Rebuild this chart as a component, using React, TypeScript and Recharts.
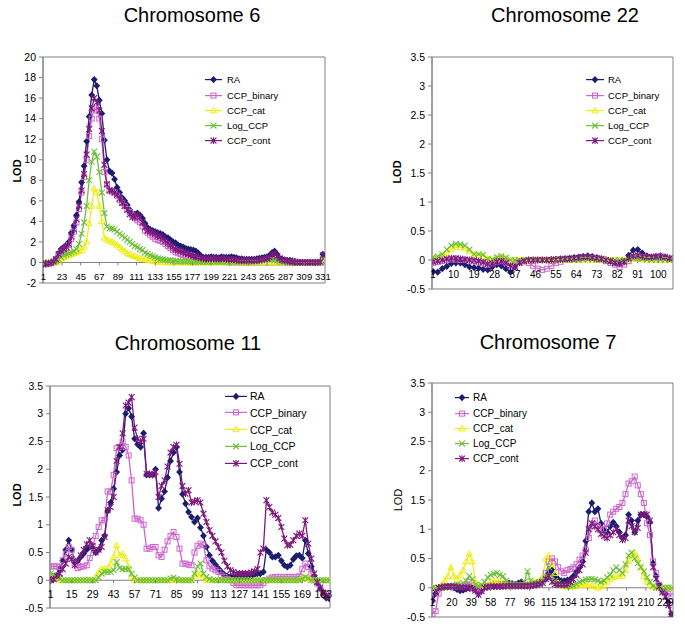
import React from 'react';
import { LineChart, Line, XAxis, YAxis, ReferenceLine, ReferenceArea } from 'recharts';

const FONT = '"Liberation Sans", Arial, sans-serif';

// ---- Chromosome 6 (every 3rd marker, k = 1, 4, 7 ... 331) ----
const chr6Ticks = [1, 23, 45, 67, 89, 111, 133, 155, 177, 199, 221, 243, 265, 287, 309, 331];
const chr6RA = [
  -0.15, -0.15, -0.1, -0.05, 0.1, 0.4, 0.9, 1.3, 1.5, 1.7,
  2.0, 2.9, 3.6, 4.6, 5.9, 7.8, 9.4, 11.8, 14.2, 16.3,
  17.8, 17.2, 15.8, 14.5, 11.9, 10.0, 8.9, 8.7, 8.1, 7.3,
  6.8, 6.3, 6.0, 5.6, 5.1, 4.7, 4.7, 4.8, 4.6, 4.3,
  3.8, 3.4, 3.2, 3.1, 3.0, 2.9, 2.8, 2.7, 2.5, 2.4,
  2.2, 2.0, 1.9, 1.7, 1.6, 1.5, 1.35, 1.3, 1.25, 1.2,
  1.1, 0.9, 0.65, 0.5, 0.5, 0.5, 0.55, 0.5, 0.5, 0.45,
  0.55, 0.5, 0.5, 0.5, 0.55, 0.5, 0.45, 0.35, 0.35, 0.3,
  0.3, 0.3, 0.3, 0.3, 0.35, 0.4, 0.45, 0.5, 0.55, 0.7,
  0.95, 1.1, 0.8, 0.4, 0.3, 0.25, 0.2, 0.2, 0.15, 0.1,
  0.05, 0, 0, 0, 0, 0, 0, 0, 0, 0.1,
  0.8,
];
const chr6Binary = [
  -0.15, -0.15, -0.1, -0.05, 0.05, 0.3, 0.7, 1.0, 1.2, 1.4,
  1.7, 2.3, 3.0, 3.9, 5.2, 6.8, 8.3, 10.0, 12.3, 14.0,
  15.0, 14.8, 14.0, 12.0, 8.8, 7.6, 7.0, 6.9, 6.8, 6.5,
  6.1, 5.8, 5.5, 5.2, 4.9, 4.6, 4.3, 4.1, 3.9, 3.5,
  3.1, 2.9, 2.7, 2.5, 2.3, 2.2, 2.1, 2.0, 1.8, 1.6,
  1.4, 1.2, 1.0, 0.9, 0.8, 0.7, 0.6, 0.5, 0.4, 0.3,
  0.25, 0.2, 0.15, 0.1, 0.1, 0.1, 0.1, 0.05, 0.05, 0.05,
  0.05, 0.05, 0.05, 0, 0, 0, 0, 0, 0, 0,
  0, 0, 0, 0, 0, 0, 0, 0, 0, 0,
  0, 0, 0, 0, 0, 0, 0, 0, 0, 0,
  0, 0, 0, 0, 0, 0, 0, 0, 0, 0,
  0.1,
];
const chr6Cat = [
  0, 0, 0, 0, 0, 0, 0.1, 0.3, 0.5, 0.6,
  0.7, 0.8, 0.9, 1.0, 1.1, 1.2, 1.5, 2.0, 3.8, 5.5,
  7.2, 6.8, 5.5, 4.0, 2.4, 2.2, 2.1, 2.0, 1.9, 1.7,
  1.5, 1.3, 1.1, 0.9, 0.8, 0.7, 0.6, 0.5, 0.4, 0.35,
  0.3, 0.25, 0.2, 0.15, 0.1, 0.1, 0.05, 0.05, 0, 0,
  0, 0, 0, 0, 0, 0, 0, 0, 0, 0,
  0, 0, 0, 0, 0, 0, 0, 0, 0, 0,
  0, 0, 0, 0, 0, 0, 0, 0, 0, 0,
  0, 0, 0, 0, 0, 0, 0, 0, 0, 0,
  0, 0, 0, 0, 0, 0, 0, 0, 0, 0,
  0, 0, 0, 0, 0, 0, 0, 0, 0, 0,
  0.3,
];
const chr6Log = [
  0, 0, 0, 0, 0, 0.1, 0.3, 0.5, 0.7, 0.8,
  0.9, 1.0, 1.1, 1.3, 1.8, 2.8, 3.9, 5.5, 8.0, 9.8,
  10.8, 10.3, 8.8, 6.8, 4.8, 3.5, 3.3, 3.3, 3.2, 3.0,
  2.8, 2.6, 2.4, 2.2, 2.0, 1.8, 1.6, 1.5, 1.3, 1.2,
  0.95, 0.85, 0.7, 0.6, 0.5, 0.4, 0.35, 0.3, 0.25, 0.2,
  0.2, 0.15, 0.15, 0.1, 0.1, 0.1, 0.1, 0.1, 0.05, 0.05,
  0.05, 0.05, 0.05, 0.05, 0.05, 0.05, 0.05, 0.05, 0.05, 0.05,
  0.05, 0.05, 0.05, 0.05, 0.05, 0.05, 0.05, 0.05, 0.05, 0.05,
  0.05, 0.05, 0.05, 0.1, 0.1, 0.15, 0.2, 0.25, 0.3, 0.3,
  0.3, 0.25, 0.2, 0.1, 0.05, 0.05, 0, 0, 0, 0,
  0, 0, 0, 0, 0, 0, 0, 0, 0, 0,
  0.4,
];
const chr6Cont = [
  -0.15, -0.15, -0.1, -0.05, 0.1, 0.3, 0.8, 1.1, 1.3, 1.5,
  1.8, 2.5, 3.2, 4.2, 5.5, 7.0, 8.6, 10.5, 13.0, 15.0,
  16.0, 15.6, 14.8, 12.8, 9.5, 7.6, 7.0, 7.0, 6.8, 6.6,
  6.2, 5.8, 5.5, 5.1, 4.7, 4.4, 4.4, 4.6, 4.4, 3.9,
  3.4, 3.1, 3.0, 2.9, 2.8, 2.6, 2.5, 2.3, 2.1, 1.9,
  1.7, 1.5, 1.3, 1.2, 1.1, 1.0, 0.9, 0.85, 0.75, 0.65,
  0.55, 0.5, 0.45, 0.4, 0.35, 0.35, 0.4, 0.4, 0.35, 0.35,
  0.35, 0.4, 0.35, 0.3, 0.3, 0.3, 0.25, 0.2, 0.2, 0.2,
  0.2, 0.2, 0.2, 0.2, 0.2, 0.25, 0.3, 0.35, 0.4, 0.5,
  0.75, 0.85, 0.6, 0.4, 0.25, 0.2, 0.15, 0.1, 0.05, 0,
  0, 0, 0, 0, 0, 0, 0, 0, 0, 0.05,
  0.7,
];

// ---- Chromosome 22 (every 2nd marker, k = 1, 3 ... 105) ----
const chr22Ticks = [1, 10, 19, 28, 37, 46, 55, 64, 73, 82, 91, 100];
const chr22RA = [
  -0.2, -0.21, -0.15, -0.11, -0.06, -0.05, -0.05, -0.08, -0.12, -0.13,
  -0.14, -0.16, -0.17, -0.12, -0.08, -0.1, -0.15, -0.21, -0.12, -0.03,
  -0.01, 0, 0, 0, 0, 0, 0.01, 0.01, 0.02, 0.02,
  0.03, 0.04, 0.05, 0.06, 0.07, 0.06, 0.04, 0.02, 0, -0.02,
  -0.04, -0.05, -0.02, 0.08, 0.17, 0.18, 0.12, 0.07, 0.05, 0.06,
  0.07, 0.05, 0.03,
];
const chr22Binary = [
  -0.05, -0.03, -0.02, 0, 0.01, 0.01, 0, 0, -0.01, -0.02,
  -0.04, -0.06, -0.08, -0.06, -0.03, -0.02, -0.05, -0.1, -0.1, -0.04,
  -0.02, -0.05, -0.1, -0.15, -0.17, -0.15, -0.1, -0.05, -0.03, 0,
  0, 0.01, 0.02, 0.03, 0.04, 0.03, 0.02, 0.01, -0.02, -0.05,
  -0.08, -0.12, -0.08, -0.02, 0.04, 0.06, 0.05, 0.04, 0.04, 0.05,
  0.05, 0.04, 0.02,
];
const chr22Cat = [
  0.03, 0.04, 0.07, 0.13, 0.19, 0.22, 0.22, 0.2, 0.15, 0.09,
  0.08, 0.07, 0.02, 0, 0.03, 0.05, 0.03, 0, 0, 0,
  0, 0, 0, 0, 0, 0, 0, 0, 0, 0,
  0, 0, 0, 0, 0, 0, 0, 0, 0, 0,
  0, 0, 0, 0, 0.02, 0.02, 0.01, 0, 0, 0,
  0, 0, 0,
];
const chr22Log = [
  0.05, 0.06, 0.1, 0.18, 0.25, 0.28, 0.27, 0.25, 0.18, 0.1,
  0.1, 0.09, 0.02, 0.01, 0.05, 0.07, 0.04, 0, 0, 0,
  0, 0, 0, 0, 0, 0, 0, 0, 0, 0,
  0, 0, 0, 0.01, 0.01, 0.01, 0.01, 0, 0, 0,
  0, 0, 0, 0.01, 0.03, 0.03, 0.02, 0.01, 0, 0,
  0, 0, 0,
];
const chr22Cont = [
  -0.03, -0.02, 0, 0.02, 0.03, 0.03, 0.02, 0.01, 0, -0.01,
  -0.02, -0.04, -0.07, -0.06, -0.03, -0.02, -0.05, -0.1, -0.12, -0.05,
  -0.02, 0, 0, 0, 0, 0, 0, 0.01, 0.01, 0.02,
  0.02, 0.03, 0.04, 0.05, 0.05, 0.04, 0.03, 0.02, 0, -0.02,
  -0.05, -0.06, -0.03, 0.03, 0.07, 0.08, 0.06, 0.05, 0.05, 0.06,
  0.06, 0.05, 0.03,
];

// ---- Chromosome 11 (every 2nd marker, k = 1, 3 ... 187) ----
const chr11Ticks = [1, 15, 29, 43, 57, 71, 85, 99, 113, 127, 141, 155, 169, 183];
const chr11RA = [
  0, 0.02, 0.08, 0.2, 0.35, 0.55, 0.72, 0.55, 0.32, 0.35,
  0.42, 0.48, 0.55, 0.6, 0.58, 0.5, 0.55, 0.72, 0.8, 1.25,
  1.4, 1.65, 1.95, 2.25, 2.35, 3.0, 3.1, 2.95, 2.55, 2.45,
  2.4, 2.65, 1.9, 1.9, 1.9, 2.0, 1.3, 1.47, 1.6, 1.85,
  2.15, 2.3, 2.4, 1.95, 1.55, 1.38, 1.23, 1.14, 1.05, 1.12,
  0.95, 0.8, 0.6, 0.45, 0.35, 0.28, 0.21, 0.15, 0.1, 0.07,
  0.06, 0.06, 0.06, 0.06, 0.06, 0.07, 0.07, 0.08, 0.1, 0.12,
  0.12, 0.15, 0.55, 0.5, 0.42, 0.42, 0.45, 0.35, 0.27, 0.24,
  0.27, 0.38, 0.44, 0.45, 0.4, 0.72, 0.48, 0.25, 0.08, -0.05,
  -0.15, -0.25, -0.32, -0.33,
];
const chr11Binary = [
  0.25, 0.25, 0.25, 0.24, 0.36, 0.48, 0.6, 0.55, 0.3, 0.22,
  0.24, 0.25, 0.27, 0.4, 0.6, 0.8, 0.96, 1.08, 1.08, 1.6,
  1.6, 1.9, 2.38, 2.4, 2.5, 2.4, 2.25, 1.8, 1.11, 1.11,
  1.08, 1.0, 0.57, 0.57, 0.6, 0.6, 0.45, 0.42, 0.55, 0.7,
  0.8, 0.87, 0.78, 0.57, 0.3, 0.3, 0.28, 0.27, 0.5, 0.62,
  0.66, 0.63, 0.36, 0.25, 0.21, 0.18, 0.15, 0.09, 0.06, 0.02,
  0, -0.05, -0.09, -0.09, -0.09, -0.09, -0.09, -0.09, -0.09, -0.09,
  -0.09, -0.05, 0, 0.03, 0.05, 0.06, 0.06, 0.06, 0.06, 0.06,
  0.06, 0.06, 0.06, 0.07, 0.2, 0.3, 0.24, 0.12, 0, -0.06,
  -0.15, -0.24, -0.24, -0.24,
];
const chr11Cat = [
  0.06, 0.05, 0.03, 0.01, 0, 0, 0, 0, 0, 0,
  0, 0, 0, 0, 0, 0.06, 0.15, 0.21, 0.21, 0.21,
  0.3, 0.42, 0.63, 0.45, 0.48, 0.39, 0.24, 0.06, 0, 0,
  0, 0, 0, 0, 0, 0, 0, 0, 0, 0,
  0, 0, 0, 0, 0, 0, 0, 0, 0.08, 0.12,
  0.1, 0.05, 0, 0, 0, 0, 0, 0, 0, 0,
  0, 0, 0, 0, 0, 0, 0, 0, 0, 0,
  0, 0, 0, 0, 0, 0, 0, 0, 0, 0,
  0, 0, 0, 0, 0.03, 0.05, 0.03, 0, 0, 0,
  0, 0, 0, 0,
];
const chr11Log = [
  0.12, 0.1, 0.06, 0.03, 0, 0, 0, 0, 0, 0,
  0, 0, 0, 0, 0, 0, 0.05, 0.12, 0.15, 0.15,
  0.15, 0.18, 0.33, 0.22, 0.2, 0.2, 0.2, 0.12, 0.05, 0,
  0, 0, 0, 0, 0, 0, 0, 0, 0, 0,
  0.03, 0.05, 0.02, 0, 0, 0, 0, 0, 0.12, 0.25,
  0.3, 0.12, 0.06, 0.02, 0, 0, 0, 0, 0, 0,
  0, 0, 0, 0, 0, 0, 0, 0, 0, 0,
  0, 0, 0, 0, 0, 0, 0, 0, 0, 0,
  0, 0, 0, 0, 0.03, 0.06, 0.03, 0, 0, 0,
  0, 0, 0, 0,
];
const chr11Cont = [
  0, 0.02, 0.08, 0.12, 0.2, 0.3, 0.42, 0.38, 0.27, 0.35,
  0.45, 0.55, 0.65, 0.72, 0.62, 0.5, 0.55, 0.6, 0.78, 1.26,
  1.32, 1.5, 2.15, 2.4, 2.65, 3.15, 3.2, 3.3, 2.75, 2.55,
  2.5, 2.55, 1.92, 1.92, 1.9, 1.95, 1.5, 1.7, 1.8, 2.05,
  2.3, 2.4, 2.44, 2.1, 1.7, 1.56, 1.62, 1.4, 1.42, 1.44,
  1.4, 1.2, 1.05, 0.9, 0.8, 0.7, 0.6, 0.5, 0.35, 0.25,
  0.18, 0.15, 0.12, 0.12, 0.12, 0.12, 0.12, 0.14, 0.16, 0.2,
  0.5, 0.57, 1.44, 1.32, 1.22, 1.18, 1.12, 0.96, 0.75, 0.63,
  0.64, 0.72, 0.8, 0.84, 0.8, 1.08, 0.66, 0.39, 0.12, -0.03,
  -0.13, -0.22, -0.28, -0.3,
];

// ---- Chromosome 7 (every 3rd marker, k = 1, 4 ... 235) ----
const chr7Ticks = [1, 20, 39, 58, 77, 96, 115, 134, 153, 172, 191, 210, 229];
const chr7RA = [
  -0.22, -0.1, 0, 0.01, 0.02, 0.02, 0.02, 0, -0.03, -0.05,
  -0.04, -0.02, 0, 0, -0.03, -0.1, -0.05, 0.02, 0.03, 0.04,
  0.05, 0.05, 0.06, 0.07, 0.08, 0.08, 0.07, 0.06, 0.08, 0.1,
  0.06, 0.05, 0.05, 0.06, 0.08, 0.1, 0.12, 0.15, 0.25, 0.3,
  0.2, 0.15, 0.12, 0.12, 0.13, 0.15, 0.2, 0.28, 0.35, 0.45,
  0.8, 1.3, 1.45, 1.3, 1.35, 1.1, 0.98, 0.95, 1.05, 1.12,
  1.05, 0.95, 0.85, 0.9, 1.25, 1.15, 0.95, 1.15, 1.25, 1.25,
  1.22, 1.12, 0.42, 0.2, 0.05, -0.05, -0.1, -0.25, -0.45,
];
const chr7Binary = [
  -0.45, -0.4, -0.1, 0, 0.02, 0.02, 0.02, 0.02, 0.02, 0.02,
  0.03, 0.05, 0.1, 0.02, -0.03, -0.08, -0.03, 0.02, 0.03, 0.03,
  0.03, 0.04, 0.05, 0.05, 0.05, 0.05, 0.05, 0.05, 0.04, 0.04,
  0.04, 0.04, 0.05, 0.05, 0.06, 0.08, 0.12, 0.25, 0.45, 0.5,
  0.45, 0.35, 0.28, 0.25, 0.3, 0.32, 0.35, 0.4, 0.48, 0.55,
  0.65, 0.85, 1.05, 1.15, 1.05, 1.0, 1.0, 1.1, 1.25, 1.3,
  1.35, 1.38, 1.45, 1.6, 1.78, 1.82, 1.9, 1.75, 1.6, 1.45,
  1.1, 0.9, 0.45, 0.25, 0.05, -0.05, -0.08, -0.1, -0.15,
];
const chr7Cat = [
  0, 0, 0, 0.05, 0.12, 0.2, 0.35, 0.2, 0.15, 0.22,
  0.3, 0.45, 0.58, 0.45, 0.1, 0.03, 0.02, 0.02, 0.05, 0.1,
  0.12, 0.12, 0.1, 0.08, 0.05, 0.03, 0.03, 0.03, 0.03, 0.04,
  0.05, 0.05, 0.08, 0.1, 0.1, 0.12, 0.2, 0.5, 0.55, 0.4,
  0.25, 0.08, 0.04, 0.02, 0.02, 0.02, 0.02, 0.03, 0.04, 0.05,
  0.05, 0.05, 0.03, 0.02, 0, 0.02, 0.05, 0.1, 0.15, 0.18,
  0.2, 0.2, 0.2, 0.3, 0.45, 0.55, 0.6, 0.5, 0.35, 0.2,
  0.1, 0.05, 0.02, 0, 0, 0, 0, 0, 0,
];
const chr7Log = [
  0, 0, 0, 0, 0, 0.02, 0.03, 0.04, 0.05, 0.05,
  0.08, 0.12, 0.2, 0.15, 0.05, 0.03, 0.05, 0.1, 0.18, 0.22,
  0.24, 0.25, 0.22, 0.2, 0.12, 0.08, 0.05, 0.05, 0.05, 0.04,
  0.1, 0.28, 0.12, 0.08, 0.08, 0.1, 0.12, 0.2, 0.35, 0.2,
  0.12, 0.08, 0.05, 0.04, 0.03, 0.03, 0.04, 0.06, 0.1, 0.12,
  0.14, 0.15, 0.15, 0.14, 0.12, 0.1, 0.12, 0.18, 0.22, 0.3,
  0.35, 0.3, 0.25, 0.4, 0.55, 0.6, 0.5, 0.42, 0.35, 0.28,
  0.18, 0.1, 0.03, 0, 0, 0, 0, 0, 0,
];
const chr7Cont = [
  -0.2, -0.08, 0, 0.01, 0.02, 0.02, 0.02, 0.02, 0.01, 0,
  0, 0, 0, -0.02, -0.05, -0.12, -0.06, 0, 0.01, 0.02,
  0.02, 0.02, 0.02, 0.02, 0.03, 0.03, 0.03, 0.03, 0.03, 0.03,
  0.03, 0.03, 0.03, 0.04, 0.05, 0.06, 0.08, 0.15, 0.2, 0.1,
  0.06, 0.05, 0.05, 0.05, 0.06, 0.1, 0.14, 0.22, 0.3, 0.4,
  0.6, 1.0, 1.1, 1.05, 1.0, 0.92, 0.88, 0.85, 0.9, 0.95,
  1.0, 0.9, 0.82, 0.85, 1.15, 1.05, 0.95, 1.02, 1.25, 1.25,
  1.25, 1.15, 0.35, 0.15, 0.02, -0.08, -0.15, -0.3, -0.45,
];

const smallTicks = [-0.5, 0, 0.5, 1, 1.5, 2, 2.5, 3, 3.5];

// series order = Excel drawing order
const seriesStyle = [
  { key: 'RA', color: '#1c1c70', shape: 'diamond' },
  { key: 'CCP_binary', color: '#cc66cc', shape: 'square' },
  { key: 'CCP_cat', color: '#eeee10', shape: 'triangle' },
  { key: 'Log_CCP', color: '#6cc03a', shape: 'cross' },
  { key: 'CCP_cont', color: '#7d1a7d', shape: 'star' },
];

const panels = [
  {
    id: 'c6', title: 'Chromosome 6', titleX: 192, titleY: 15, lodX: 17, lodY: 171, lodBold: true,
    plot: { left: 43, right: 325, top: 57, bottom: 283 }, yDomain: [-2, 20],
    yTicks: [-2, 0, 2, 4, 6, 8, 10, 12, 14, 16, 18, 20], n: 333, step: 3, xTicks: chr6Ticks, xFont: 9.5,
    values: { RA: chr6RA, CCP_binary: chr6Binary, CCP_cat: chr6Cat, Log_CCP: chr6Log, CCP_cont: chr6Cont },
    legend: { x: 205, y: 80, gap: 15.2, font: 9.5, line: 17, textGap: 5 },
  },
  {
    id: 'c22', title: 'Chromosome 22', titleX: 565, titleY: 15, lodX: 397, lodY: 172, lodBold: true,
    plot: { left: 432, right: 673, top: 57, bottom: 289 }, yDomain: [-0.5, 3.5],
    yTicks: smallTicks, n: 106, step: 2, xTicks: chr22Ticks, xFont: 10,
    values: { RA: chr22RA, CCP_binary: chr22Binary, CCP_cat: chr22Cat, Log_CCP: chr22Log, CCP_cont: chr22Cont },
    legend: { x: 586, y: 80, gap: 15.2, font: 9.5, line: 18, textGap: 4 },
  },
  {
    id: 'c11', title: 'Chromosome 11', titleX: 188, titleY: 343, lodX: 17, lodY: 495, lodBold: true,
    plot: { left: 50, right: 330, top: 386, bottom: 608 }, yDomain: [-0.5, 3.5],
    yTicks: smallTicks, n: 187, step: 2, xTicks: chr11Ticks, xFont: 10.5,
    values: { RA: chr11RA, CCP_binary: chr11Binary, CCP_cat: chr11Cat, Log_CCP: chr11Log, CCP_cont: chr11Cont },
    legend: { x: 225, y: 396, gap: 16.8, font: 10.5, line: 22, textGap: 3 },
  },
  {
    id: 'c7', title: 'Chromosome 7', titleX: 548, titleY: 342, lodX: 398, lodY: 500, lodBold: false,
    plot: { left: 432, right: 673, top: 383, bottom: 617 }, yDomain: [-0.5, 3.5],
    yTicks: smallTicks, n: 236, step: 3, xTicks: chr7Ticks, xFont: 10,
    values: { RA: chr7RA, CCP_binary: chr7Binary, CCP_cat: chr7Cat, Log_CCP: chr7Log, CCP_cont: chr7Cont },
    legend: { x: 455, y: 398, gap: 15.2, font: 10, line: 14, textGap: 4 },
  },
];

const Marker = ({ shape, cx, cy, color }: any) => {
  if (cx == null || cy == null) return null;
  const r = 2.9;
  switch (shape) {
    case 'diamond':
      return <path d={`M${cx},${cy - 3.6}L${cx + 3.4},${cy}L${cx},${cy + 3.6}L${cx - 3.4},${cy}Z`} fill={color} />;
    case 'square':
      return <rect x={cx - 2.5} y={cy - 2.5} width={5} height={5} fill="none" stroke={color} strokeWidth={1} />;
    case 'triangle':
      return <path d={`M${cx},${cy - 3.2}L${cx + 3.1},${cy + 2.3}L${cx - 3.1},${cy + 2.3}Z`} fill="none" stroke={color} strokeWidth={1} />;
    case 'cross':
      return <path d={`M${cx - r},${cy - r}L${cx + r},${cy + r}M${cx - r},${cy + r}L${cx + r},${cy - r}`} stroke={color} strokeWidth={1.1} />;
    default:
      return (
        <path
          d={`M${cx - r},${cy - r}L${cx + r},${cy + r}M${cx - r},${cy + r}L${cx + r},${cy - r}M${cx},${cy - 3.4}L${cx},${cy + 3.4}`}
          stroke={color}
          strokeWidth={1.1}
        />
      );
  }
};

const XTick = ({ x, payload, zeroY, font }: any) => (
  <g>
    <line x1={x} x2={x} y1={zeroY} y2={zeroY + 3} stroke="#808080" />
    <text x={x} y={zeroY + 14.5} dy="0.35em" textAnchor="middle" fontSize={font} fontFamily={FONT} fill="#000">
      {payload.value}
    </text>
  </g>
);

const Legend = ({ cfg }: any) => {
  const { x, y, gap, font, line, textGap } = cfg.legend;
  return (
    <div style={{ position: 'absolute', left: x, top: y - gap / 2, fontFamily: FONT, fontSize: font }}>
      {seriesStyle.map(s => (
        <div key={s.key} style={{ height: gap, display: 'flex', alignItems: 'center', whiteSpace: 'nowrap' }}>
          <svg width={line} height={gap} style={{ display: 'block' }}>
            <line x1={0} x2={line} y1={gap / 2} y2={gap / 2} stroke={s.color} strokeWidth={1.2} />
            <Marker shape={s.shape} cx={line / 2} cy={gap / 2} color={s.color} />
          </svg>
          <span style={{ marginLeft: textGap }}>{s.key}</span>
        </div>
      ))}
    </div>
  );
};

const ChromPanel = ({ cfg }: any) => {
  const { left, right, top, bottom } = cfg.plot;
  const [yMin, yMax] = cfg.yDomain;
  const yW = 40;
  const xH = 10;
  const zeroY = top + (yMax / (yMax - yMin)) * (bottom - top);
  const data = cfg.values.RA.map((_: number, i: number) => {
    const row: any = { k: 1 + i * cfg.step };
    seriesStyle.forEach(s => { row[s.key] = cfg.values[s.key][i]; });
    return row;
  });

  return (
    <div style={{ position: 'absolute', left: 0, top: 0, width: 685, height: 630 }}>
      <div
        style={{
          position: 'absolute', left: cfg.titleX, top: cfg.titleY, transform: 'translate(-50%, -50%)',
          fontFamily: FONT, fontSize: 20, whiteSpace: 'nowrap', color: '#000',
        }}
      >
        {cfg.title}
      </div>
      <div
        style={{
          position: 'absolute', left: cfg.lodX, top: cfg.lodY, transform: 'translate(-50%, -50%) rotate(-90deg)',
          fontFamily: FONT, fontSize: 11, fontWeight: cfg.lodBold ? 'bold' : 'normal', color: '#000',
        }}
      >
        LOD
      </div>
      <div style={{ position: 'absolute', left: 0, top: 0 }}>
        <LineChart
          width={685}
          height={630}
          data={data}
          margin={{ left: left - yW, top, right: 685 - right, bottom: 630 - bottom - xH }}
        >
          <XAxis
            dataKey="k"
            type="number"
            domain={[0.5, cfg.n + 0.5]}
            ticks={cfg.xTicks}
            interval={0}
            allowDataOverflow
            axisLine={false}
            tickLine={false}
            height={xH}
            tick={(p: any) => <XTick {...p} zeroY={zeroY} font={cfg.xFont} />}
          />
          <YAxis
            type="number"
            domain={cfg.yDomain}
            ticks={cfg.yTicks}
            interval={0}
            allowDataOverflow
            width={yW}
            axisLine={{ stroke: '#808080' }}
            tickLine={{ stroke: '#808080' }}
            tickSize={4}
            tickMargin={3}
            tick={{ fontSize: 10.5, fill: '#000', fontFamily: FONT }}
          />
          <ReferenceArea x1={0.5} x2={cfg.n + 0.5} y1={yMin} y2={yMax} fill="none" fillOpacity={0} stroke="#808080" />
          <ReferenceLine y={0} stroke="#808080" />
          {seriesStyle.map(s => (
            <Line
              key={s.key}
              type="linear"
              dataKey={s.key}
              stroke={s.color}
              strokeWidth={1.3}
              isAnimationActive={false}
              dot={(p: any) => <Marker key={`${s.key}-${p.index}`} shape={s.shape} cx={p.cx} cy={p.cy} color={s.color} />}
              activeDot={false}
            />
          ))}
        </LineChart>
      </div>
      <Legend cfg={cfg} />
    </div>
  );
};

export default function App() {
  return (
    <div style={{ position: 'absolute', left: 0, top: 0, width: 685, height: 630, background: '#fff', overflow: 'hidden' }}>
      {panels.map(cfg => (
        <ChromPanel key={cfg.id} cfg={cfg} />
      ))}
    </div>
  );
}
